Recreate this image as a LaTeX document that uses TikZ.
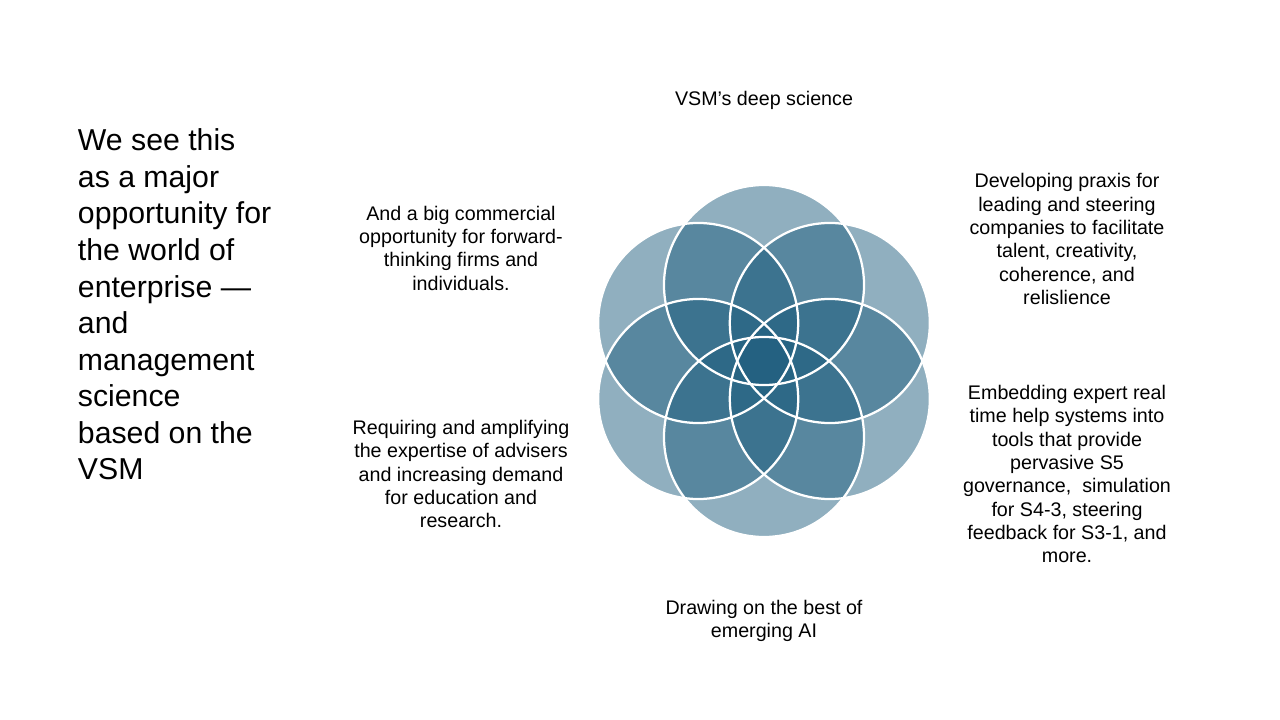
\documentclass[tikz,border=0pt]{standalone}
\usepackage{fontspec}
\setmainfont{Liberation Sans}
\usetikzlibrary{calc}
\definecolor{petal}{RGB}{34,96,128}
\begin{document}
\begin{tikzpicture}[x=0.025cm,y=-0.025cm,
  lbl/.style={align=center,font=\fontsize{14}{16.6}\selectfont},
  petal/.style={fill=petal,fill opacity=0.5}]
\useasboundingbox (0,0) rectangle (1280,720);
\fill[white] (0,0) rectangle (1280,720);
\coordinate (c) at (764,361);
\foreach \a in {90,30,-30,-90,-150,150}
  \fill[petal] ($(c)+({76*cos(\a)},{-76*sin(\a)})$) circle[radius=2.5cm];
\foreach \a in {90,30,-30,-90,-150,150}
  \draw[white,line width=1.6pt] ($(c)+({76*cos(\a)},{-76*sin(\a)})$) circle[radius=2.5cm];
\node[anchor=north west,align=left,font=\fontsize{21.5}{26}\selectfont] (big) at (73,124)
  {We see this\\as a major\\opportunity for\\the world of\\enterprise ---\\and\\management\\science\\based on the\\VSM};
\node[lbl] (top) at (764,100) {VSM’s deep science};
\node[lbl] (rt) at (1067,239) {Developing praxis for\\leading and steering\\companies to facilitate\\talent, creativity,\\coherence, and\\relislience};
\node[lbl] (rb) at (1067,474) {Embedding expert real\\time help systems into\\tools that provide\\pervasive S5\\governance,\ \ simulation\\for S4-3, steering\\feedback for S3-1, and\\more.};
\node[lbl] (bot) at (764,621) {Drawing on the best of\\emerging AI};
\node[lbl] (lb) at (461,474) {Requiring and amplifying\\the expertise of advisers\\and increasing demand\\for education and\\research.};
\node[lbl] (lt) at (461,248) {And a big commercial\\opportunity for forward-\\thinking firms and\\individuals.};
\end{tikzpicture}
\end{document}
